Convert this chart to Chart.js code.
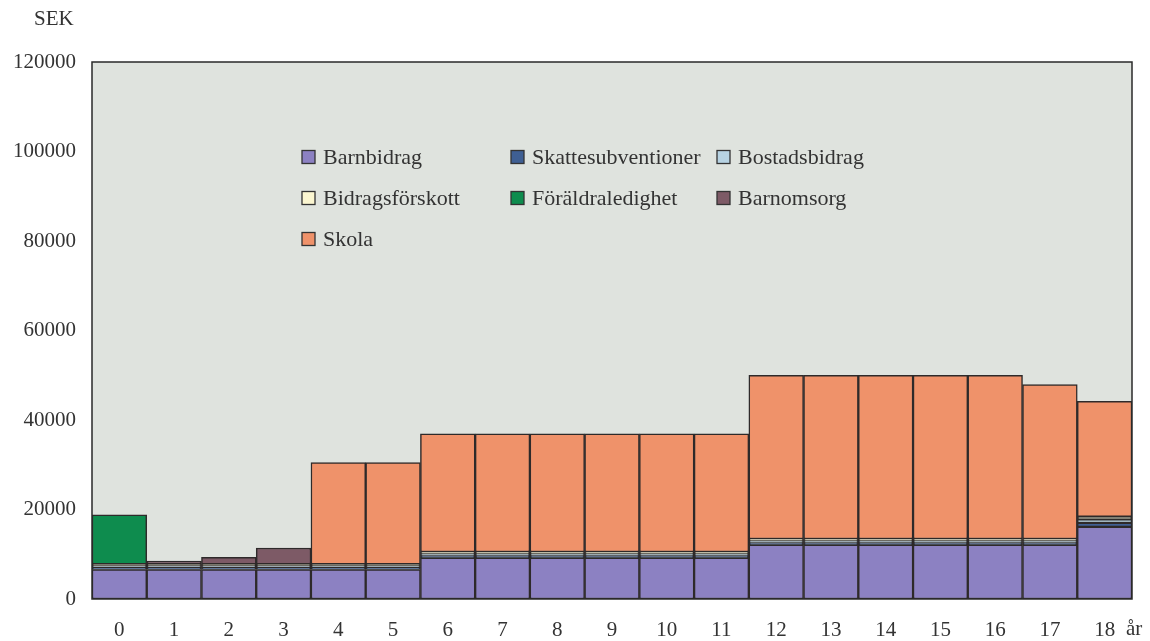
<!DOCTYPE html>
<html>
<head>
<meta charset="utf-8">
<script src="https://cdn.jsdelivr.net/npm/chart.js@4/dist/chart.umd.min.js"></script>
<style>
html,body{margin:0;padding:0;background:#ffffff;}
#wrap{width:1150px;height:641px;position:relative;}
</style>
</head>
<body>
<div id="wrap"><canvas id="c" width="1150" height="641"></canvas></div>
<script>
const ages = ['0','1','2','3','4','5','6','7','8','9','10','11','12','13','14','15','16','17','18'];
const barnbidrag        = [6600,6600,6600,6600,6600,6600,9200,9200,9200,9200,9200,9200,12100,12100,12100,12100,12100,12100,16100];
const skattesubvention  = [400,400,400,400,400,400,450,450,450,450,450,450,450,450,450,450,450,450,900];
const bostadsbidrag     = [400,400,400,400,400,400,450,450,450,450,450,450,450,450,450,450,450,450,800];
const bidragsforskott   = [400,400,400,400,400,400,400,400,400,400,400,400,400,400,400,400,400,400,600];
const foraldraledighet  = [11000,0,0,0,0,0,0,0,0,0,0,0,0,0,0,0,0,0,0];
const barnomsorg        = [0,700,1500,3600,0,0,0,0,0,0,0,0,0,0,0,0,0,0,0];
const skola             = [0,0,0,0,22700,22700,26400,26400,26400,26400,26400,26400,36600,36600,36600,36600,36600,34500,25800];
const yTicks = [0,20000,40000,60000,80000,100000,120000];

const FONT = "'Liberation Serif','DejaVu Serif',serif";
const TXT = '#333333';

const series = [
  {label:'Barnbidrag', data:barnbidrag, color:'#8c81c2'},
  {label:'Skattesubventioner', data:skattesubvention, color:'#3f5f93'},
  {label:'Bostadsbidrag', data:bostadsbidrag, color:'#b7d3e3'},
  {label:'Bidragsförskott', data:bidragsforskott, color:'#fbf6d0'},
  {label:'Föräldraledighet', data:foraldraledighet, color:'#0e8c4e'},
  {label:'Barnomsorg', data:barnomsorg, color:'#7d5a66'},
  {label:'Skola', data:skola, color:'#ef926a'}
];

const legendCols = [302,511,717];
const legendRows = [157,198,239];

const decor = {
  id:'decor',
  beforeDatasetsDraw(chart){
    const {ctx, chartArea:a} = chart;
    ctx.save();
    ctx.fillStyle = '#dfe3de';
    ctx.fillRect(a.left, a.top, a.right-a.left, a.bottom-a.top);
    ctx.restore();
  },
  afterDraw(chart){
    const {ctx, chartArea:a} = chart;
    ctx.save();
    ctx.strokeStyle = '#2a2a2a';
    ctx.lineWidth = 1.5;
    ctx.strokeRect(a.left, a.top, a.right-a.left, a.bottom-a.top);
    ctx.fillStyle = TXT;
    ctx.font = "21px " + FONT;
    ctx.textAlign = 'left';
    ctx.textBaseline = 'middle';
    ctx.fillText('SEK', 34, 19);
    ctx.fillText('år', 1126, 629);
    ctx.font = "22px " + FONT;
    chart.data.datasets.forEach((ds, i) => {
      const col = i % 3, row = Math.floor(i / 3);
      const x = legendCols[col], y = legendRows[row];
      ctx.fillStyle = ds.backgroundColor;
      ctx.fillRect(x, y-6.5, 13, 13);
      ctx.strokeStyle = '#333';
      ctx.lineWidth = 1.3;
      ctx.strokeRect(x, y-6.5, 13, 13);
      ctx.fillStyle = TXT;
      ctx.fillText(ds.label, x + 21, y + 1);
    });
    ctx.restore();
  }
};

new Chart(document.getElementById('c'), {
  type:'bar',
  data:{
    labels: ages,
    datasets: series.map(s => ({
      label: s.label,
      data: s.data,
      backgroundColor: s.color,
      borderColor: '#2e2a2a',
      borderWidth: 1.5,
      borderSkipped: false,
      barPercentage: 1,
      categoryPercentage: 1
    }))
  },
  options:{
    responsive:false,
    animation:false,
    layout:{padding:{top:62,right:18,left:0,bottom:0}},
    plugins:{legend:{display:false}, tooltip:{enabled:false}},
    scales:{
      x:{
        stacked:true,
        grid:{display:false, drawTicks:false},
        border:{display:false},
        ticks:{color:TXT, font:{family:FONT, size:21}, padding:19, maxRotation:0},
        afterFit(s){ s.height = 42; }
      },
      y:{
        stacked:true,
        min:0, max:120000,
        afterBuildTicks(s){ s.ticks = yTicks.map(v => ({value:v})); },
        grid:{display:false, drawTicks:false},
        border:{display:false},
        ticks:{color:TXT, font:{family:FONT, size:21}, padding:16, callback:(v) => String(v)},
        afterFit(s){ s.width = 92; }
      }
    }
  },
  plugins:[decor]
});
</script>
</body>
</html>
